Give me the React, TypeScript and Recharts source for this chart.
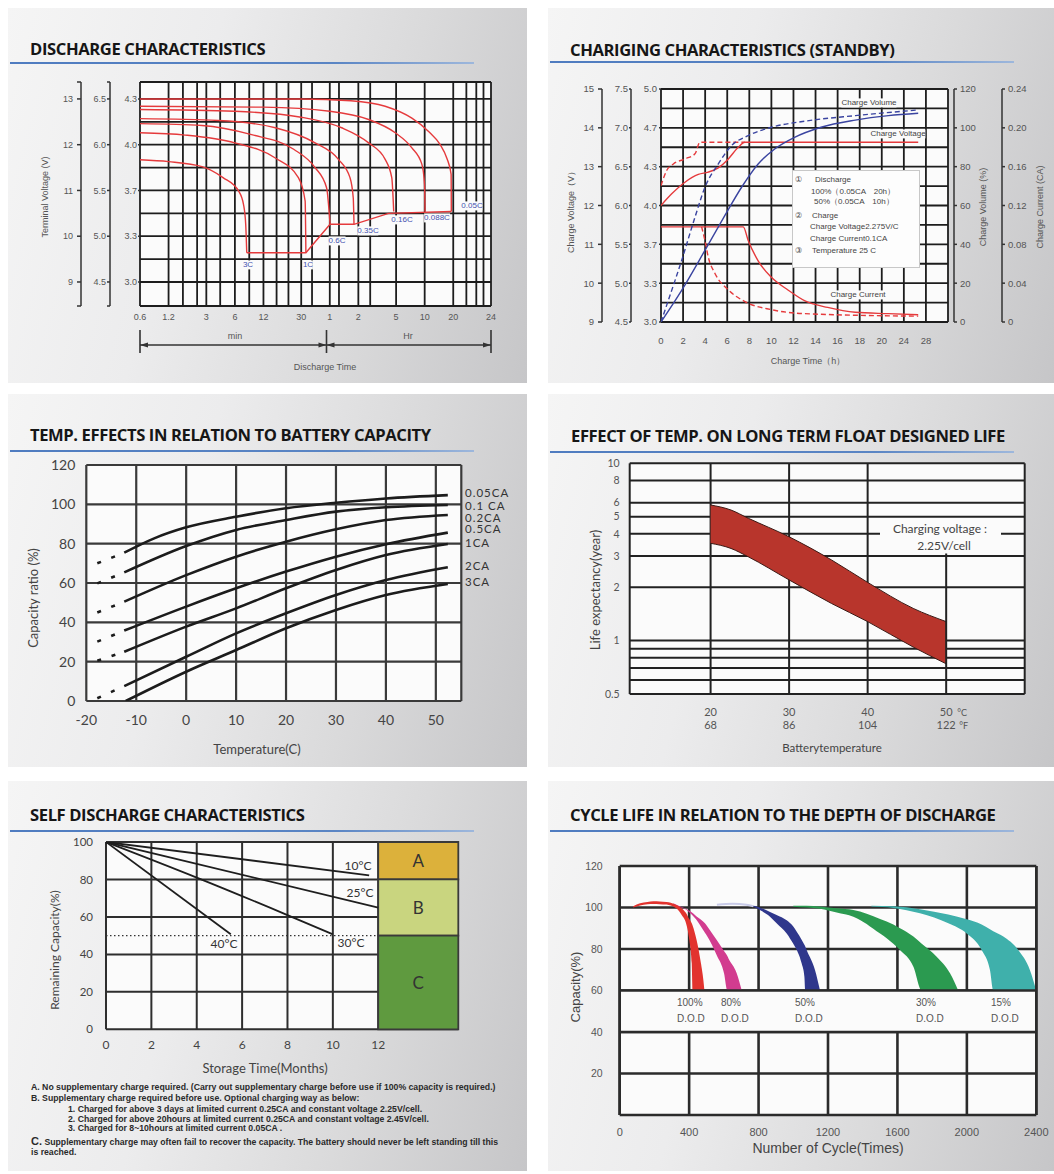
import React from 'react';
import {
  ComposedChart,
  Line,
  Area,
  XAxis,
  YAxis,
  CartesianGrid,
  ReferenceLine,
  ReferenceArea,
} from 'recharts';

type Pt = [number, number];
type Band = [number, number, number];

// ---- discharge characteristics: [minutes, volts on the 12V scale]
const dis3C: Pt[] = [[0.6, 11.67], [1.2, 11.63], [2.7, 11.52], [4.5, 11.28], [6.6, 10.98], [7.4, 10.69], [7.8, 10.26], [8.0, 9.64]];
const dis1C: Pt[] = [[0.6, 12.26], [1.8, 12.21], [6, 12.04], [16, 11.71], [28, 11.28], [33, 10.77], [33.6, 9.64]];
const dis06C: Pt[] = [[0.6, 12.46], [2.7, 12.42], [9, 12.22], [25, 11.9], [42, 11.5], [55.5, 11.06], [60.4, 10.26]];
const dis035C: Pt[] = [[0.6, 12.57], [4, 12.53], [16, 12.37], [42, 12.04], [74, 11.68], [98, 11.28], [106, 10.84], [108, 10.26]];
const dis016C: Pt[] = [[0.6, 12.77], [6, 12.73], [30, 12.6], [80, 12.37], [154, 12.04], [230, 11.68], [270, 11.28], [283, 10.54]];
const dis0088C: Pt[] = [[0.6, 12.84], [12, 12.82], [60, 12.73], [154, 12.55], [294, 12.26], [440, 11.93], [561, 11.57], [598, 11.13], [605, 10.54]];
const dis005C: Pt[] = [[0.6, 13.0], [30, 13.0], [100, 12.96], [230, 12.84], [440, 12.58], [660, 12.29], [875, 12.0], [1030, 11.7], [1140, 11.35], [1143, 10.98], [1145, 10.54]];
const disEnd: Pt[] = [[8.0, 9.64], [33.6, 9.64], [60.4, 10.26], [108, 10.26], [250, 10.5], [1145, 10.54]];
const disRateLabels = ['3C', '1C', '0.6C', '0.35C', '0.16C', '0.088C', '0.05C'];
const timeTicks = [0.6, 1.2, 3, 6, 12, 30, 60, 120, 300, 600, 1200, 3000];
const timeLabels = ['0.6', '1.2', '3', '6', '12', '30', '1', '2', '5', '10', '20', '24'];
const timeGrid = [0.6, 1.2, 1.7, 2.4, 3, 4.2, 6, 8.5, 12, 16.5, 22, 30, 39, 60, 75, 120, 160, 300, 600, 1200, 1650, 2100, 2500, 3000];
const disVoltTicks = [9, 10, 11, 12, 13];
const disGridV = [9, 9.5, 10, 10.5, 11, 11.5, 12, 12.5, 13];

// ---- charging characteristics: [hours, value]
const chgVolt100: Pt[] = [[0, 12.0], [0.97, 12.3], [2.17, 12.6], [3.38, 12.8], [4.28, 12.86], [5.19, 12.97], [6.1, 13.2], [7.0, 13.5], [7.6, 13.63], [23.3, 13.63]];
const chgVolt50: Pt[] = [[0, 12.51], [0.51, 12.9], [1.12, 13.07], [2.17, 13.2], [3.08, 13.33], [3.53, 13.63], [7.6, 13.63]];
const chgVol100: Pt[] = [[0, 0], [1.87, 16.3], [3.98, 36.9], [5.79, 54.9], [7.3, 69.4], [8.8, 81.4], [10.3, 89.1], [12.1, 95.1], [14.5, 100.3], [17.6, 104], [20.6, 106.3], [23.3, 107.5]];
const chgVol50: Pt[] = [[0, 0], [0.66, 11.1], [1.87, 31.7], [3.08, 54], [3.98, 69.4], [5.19, 81.4], [6.4, 90.9], [7.9, 96], [10, 100.3], [13, 103.4], [17.6, 106.3], [23.3, 109.2]];
const chgCur100: Pt[] = [[0, 0.098], [7.45, 0.098], [7.9, 0.084], [8.8, 0.063], [10, 0.046], [11.5, 0.033], [13, 0.022], [15.1, 0.015], [17.6, 0.01], [20.6, 0.0086], [23.3, 0.0075]];
const chgCur50: Pt[] = [[3.68, 0.098], [3.98, 0.084], [4.28, 0.067], [4.89, 0.05], [6.1, 0.033], [7.6, 0.021], [10, 0.0127], [13, 0.0086], [23.3, 0.006]];
const chgTimeTicks = [0, 2, 4, 6, 8, 10, 12, 14, 16, 18, 20, 22, 24];
const chgTimeLabels = ['0', '2', '4', '6', '8', '10', '12', '14', '16', '18', '20', '24', '28'];
const chgGridT = [0, 2, 4, 6, 8, 10, 12, 14, 16, 18, 20, 22, 24, 26];
const chgVoltTicks = [9, 10, 11, 12, 13, 14, 15];
const chgGridV = [9, 9.5, 10, 10.5, 11, 11.5, 12, 12.5, 13, 13.5, 14, 14.5, 15];
const volTicks = [0, 20, 40, 60, 80, 100, 120];
const curTicks = [0, 0.04, 0.08, 0.12, 0.16, 0.2, 0.24];

// ---- temperature vs capacity: [deg C, %]
const cap005: Pt[] = [[-12.4, 75.4], [-6.4, 82.7], [0, 88.3], [10, 93.7], [20, 98], [30, 100.8], [40, 103], [52.4, 104.7]];
const cap01: Pt[] = [[-12.4, 65.4], [0, 78.8], [10, 87], [20, 92], [30, 96.3], [40, 98.5], [52.4, 99.7]];
const cap02: Pt[] = [[-12.4, 50.5], [0, 64], [10, 73.4], [20, 81], [30, 87.3], [40, 92], [52.4, 94.6]];
const cap05: Pt[] = [[-12.4, 35.8], [0, 48], [10, 57.3], [20, 65.8], [30, 73.4], [40, 79.7], [52.4, 85.6]];
const cap1: Pt[] = [[-12.4, 25], [0, 37.8], [10, 47.1], [20, 57.3], [30, 66.6], [40, 74.2], [52.4, 79.8]];
const cap2: Pt[] = [[-12.4, 7.6], [0, 22.5], [10, 34.4], [20, 44.6], [30, 53.9], [40, 61.5], [52.4, 68]];
const cap3: Pt[] = [[-12.1, 0], [0, 14.9], [10, 25.9], [20, 37], [30, 46.3], [40, 53.9], [52.4, 59.5]];
const cap005Dash: Pt[] = [[-17.8, 70], [-12.4, 75.4]];
const cap01Dash: Pt[] = [[-17.8, 59.8], [-12.4, 65.4]];
const cap02Dash: Pt[] = [[-17.8, 45], [-12.4, 50.5]];
const cap05Dash: Pt[] = [[-17.8, 30.2], [-12.4, 35.8]];
const cap1Dash: Pt[] = [[-17.8, 20.5], [-12.4, 25]];
const cap2Dash: Pt[] = [[-17.8, 1.4], [-12.4, 7.6]];
const capRateLabels = ['0.05CA', '0.1 CA', '0.2CA', '0.5CA', '1CA', '2CA', '3CA'];
const tempTicks = [-20, -10, 0, 10, 20, 30, 40, 50];
const capTicks = [0, 20, 40, 60, 80, 100, 120];

// ---- float life: deg C -> years (band)
const lifeTemp = [20, 22.6, 24.8, 30, 35.4, 40, 45.8, 50];
const lifeHigh = [5.82, 5.45, 4.9, 3.85, 2.85, 2.13, 1.52, 1.28];
const lifeLow = [3.54, 3.31, 2.97, 2.2, 1.62, 1.28, 0.92, 0.74];
const lifeTempC = [20, 30, 40, 50];
const lifeTempF = ['68', '86', '104', '122'];
const lifeTicks = [0.5, 1, 2, 3, 4, 5, 6, 8, 10];
const lifeGrid = [0.5, 0.6, 0.7, 0.8, 0.9, 1, 2, 3, 4, 5, 6, 8, 10];

// ---- self discharge: [months, %]
const sd10: Pt[] = [[0, 100], [11.6, 82.2]];
const sd25: Pt[] = [[0, 100], [12, 65]];
const sd30: Pt[] = [[0, 100], [4, 81], [8, 61], [10, 50.7]];
const sd40: Pt[] = [[0, 100], [5.5, 50.7]];
const sdMonthTicks = [0, 2, 4, 6, 8, 10, 12];
const sdCapTicks = [0, 20, 40, 60, 80, 100];
const sdZones = [
  { name: 'A', lo: 80, hi: 100, color: '#dcb13b' },
  { name: 'B', lo: 50, hi: 80, color: '#c9d57f' },
  { name: 'C', lo: 0, hi: 50, color: '#5f9a3f' },
];
const sdNotes = [
  'A. No supplementary charge required. (Carry out supplementary charge before use if 100% capacity is required.)',
  'B. Supplementary charge required before use. Optional charging way as below:',
  '1. Charged for above 3 days at limited current 0.25CA and constant voltage 2.25V/cell.',
  '2. Charged for above 20hours at limited current 0.25CA and constant voltage 2.45V/cell.',
  '3. Charged for 8~10hours at limited current 0.05CA .',
  'C. Supplementary charge may often fail to recover the capacity. The battery should never be left standing till this',
  'is reached.',
];

// ---- cycle life: [cycles, low %, high %]
const dod100: Band[] = [[78, 100.0, 100.6], [117, 101.0, 102.0], [160, 101.6, 102.7], [194, 101.7, 103.0], [230, 101.6, 102.9], [270, 101.4, 102.65], [318, 100.0, 101.6], [328, 99.5, 101.2], [357, 96.4, 99.6], [376, 93.8, 98], [382, 92.4, 97.4], [401, 84.3, 94.4], [415, 73.1, 92.4], [420, 60, 91.3], [443, 60, 84.3], [468, 60, 73.1], [482, 60, 65.1], [488, 60, 60]];
const dod80: Band[] = [[309, 101.5, 102.1], [350, 100.1, 100.5], [386, 98.8, 99.2], [405, 97.3, 98.3], [443, 94, 95.7], [491, 87.8, 92.4], [505, 86, 90.8], [559, 77, 84.3], [601, 68.3, 79], [620, 60, 76.6], [626, 60, 75.5], [674, 60, 68.3], [703, 60, 60]];
const dod50: Band[] = [[770, 100.4, 100.8], [789, 99.6, 100.5], [866, 95.6, 97.8], [904, 92.4, 96.4], [962, 87.5, 93.8], [1000, 82.5, 90.8], [1020, 79.5, 88.3], [1048, 73.1, 84.5], [1064, 66.6, 82.0], [1069, 60, 81.2], [1077, 60, 79.5], [1125, 60, 69.9], [1154, 60, 60]];
const dod50Faint: Pt[] = [[560, 101.3], [650, 101.8], [730, 101.3], [770, 100.6]];
const dod30: Band[] = [[1000, 100.4, 100.8], [1077, 100.0, 100.9], [1154, 99.4, 100.5], [1250, 97.6, 99.6], [1346, 95.6, 98.8], [1500, 87.5, 94.5], [1538, 85.2, 93.2], [1615, 79.5, 90], [1692, 71.5, 86], [1740, 60, 82.5], [1826, 60, 76.3], [1903, 60, 68.3], [1950, 60, 60]];
const dod15: Band[] = [[1450, 100.5, 100.8], [1576, 99.8, 100.6], [1730, 97.2, 99.2], [1893, 92.4, 96.6], [1999, 87.5, 94.3], [2085, 79.5, 91.8], [2133, 69.9, 89.5], [2152, 60, 88.5], [2210, 60, 86], [2296, 60, 79.5], [2363, 60, 69.9], [2400, 60, 60]];
const dodLabels = ['100%', '80%', '50%', '30%', '15%'];
const cycleTicks = [0, 400, 800, 1200, 1600, 2000, 2400];
const cycCapTicks = [20, 40, 60, 80, 100, 120];

const ARIAL = '"Liberation Sans", Arial, sans-serif';
const MYR = 'Lato, "Open Sans", sans-serif';
const RED = '#e53a3c';
const BLUE = '#3a44a0';

const xy = (a: Pt[]) => a.map(([x, y]) => ({ x, y }));
const rng = (a: Band[]) => a.map(([x, lo, hi]) => ({ x, r: [lo, hi] }));

type TxtProps = {
  x: number; y: number; size?: number; color?: string; anchor?: 'start' | 'middle' | 'end';
  rotate?: number; weight?: number; family?: string; bg?: string; ls?: number; lh?: number; children: React.ReactNode;
};
function Txt({ x, y, size = 9, color = '#444', anchor = 'middle', rotate, weight = 400, family = ARIAL, bg, ls, lh = 1.15, children }: TxtProps) {
  const tx = anchor === 'middle' ? '-50%' : anchor === 'end' ? '-100%' : '0';
  return (
    <div
      style={{
        position: 'absolute', left: x, top: y,
        transform: `translate(${tx}, -50%)${rotate ? ` rotate(${rotate}deg)` : ''}`,
        fontSize: size, color, fontWeight: weight, fontFamily: family, background: bg,
        letterSpacing: ls, whiteSpace: 'nowrap', lineHeight: lh,
      }}
    >
      {children}
    </div>
  );
}

const panels = [
  { x: 8, y: 8, w: 519, h: 375, title: 'DISCHARGE CHARACTERISTICS', tx: 30, ty: 49, uy: 62.5 },
  { x: 548, y: 8, w: 506, h: 375, title: 'CHARIGING CHARACTERISTICS (STANDBY)', tx: 570, ty: 49.5, uy: 62 },
  { x: 8, y: 394, w: 519, h: 373, title: 'TEMP. EFFECTS IN RELATION TO BATTERY CAPACITY', tx: 30, ty: 434.5, uy: 450.5 },
  { x: 548, y: 394, w: 506, h: 373, title: 'EFFECT OF TEMP. ON LONG TERM FLOAT DESIGNED LIFE', tx: 571, ty: 436, uy: 452 },
  { x: 8, y: 781, w: 519, h: 390, title: 'SELF DISCHARGE CHARACTERISTICS', tx: 30, ty: 814.5, uy: 830.5 },
  { x: 548, y: 781, w: 506, h: 390, title: 'CYCLE LIFE IN RELATION TO THE DEPTH OF DISCHARGE', tx: 570, ty: 814.5, uy: 831 },
];

function Panels() {
  return (
    <>
      {panels.map((p) => (
        <React.Fragment key={p.title}>
          <div
            style={{
              position: 'absolute', left: p.x, top: p.y, width: p.w, height: p.h,
              background: 'linear-gradient(105deg, #f5f5f5 0%, #ececed 35%, #dadadb 68%, #c6c6c8 100%)',
            }}
          />
          <div
            style={{
              position: 'absolute', left: p.x + 2, top: p.uy - 1, width: 464, height: 2.2,
              background: 'linear-gradient(90deg, #4f7cc0 0%, #5a85c4 70%, #9db7dc 100%)',
            }}
          />
          <Txt x={p.tx} y={p.ty} anchor="start" size={16.6} weight={700} color="#161616" family='"Open Sans", sans-serif' ls={-0.4}>
            {p.title}
          </Txt>
        </React.Fragment>
      ))}
    </>
  );
}

const DIS_LO = 8.475;
const DIS_HI = 13.37;

// axis ids sort alphabetically from the plot outwards: L1 (4V) is nearest, L3 (12V) outermost
function DischargeChart() {
  const curves = [dis3C, dis1C, dis06C, dis035C, dis016C, dis0088C, dis005C];
  const tick = { fontSize: 9, fill: '#555' };
  const line = { stroke: '#333', strokeWidth: 1.5 };
  return (
    <div style={{ position: 'absolute', left: 30, top: 70, fontFamily: ARIAL }}>
      <ComposedChart width={470} height={260} margin={{ top: 12, right: 9, bottom: 4, left: 21 }}>
        <CartesianGrid yAxisId="L3" horizontalValues={[DIS_LO, ...disGridV, DIS_HI]} verticalValues={timeGrid} stroke="#1d1d1d" strokeWidth={1.8} fill="#fbfbfb" />
        <XAxis type="number" dataKey="x" scale="log" domain={[0.6, 3000]} allowDataOverflow ticks={timeTicks} interval={0}
          tickFormatter={(v: number) => timeLabels[timeTicks.indexOf(v)] ?? ''} axisLine={false} tickLine={false} tickMargin={2} height={20} tick={tick} />
        <YAxis yAxisId="L1" type="number" width={30} domain={[DIS_LO / 3, DIS_HI / 3]} allowDataOverflow ticks={disVoltTicks.map((v) => v / 3)} interval={0}
          tickFormatter={(v: number) => v.toFixed(1)} axisLine={false} tickLine={line} tickSize={2} tickMargin={1} tick={tick} />
        <YAxis yAxisId="L2" type="number" width={29} domain={[DIS_LO / 2, DIS_HI / 2]} allowDataOverflow ticks={[DIS_LO / 2, ...disVoltTicks.map((v) => v / 2), DIS_HI / 2]} interval={0}
          tickFormatter={(v: number) => (disVoltTicks.includes(v * 2) ? v.toFixed(1) : '')} axisLine={line} tickLine={line} tickSize={3} tickMargin={1} tick={tick} />
        <YAxis yAxisId="L3" type="number" width={30} domain={[DIS_LO, DIS_HI]} allowDataOverflow ticks={[DIS_LO, ...disVoltTicks, DIS_HI]} interval={0}
          tickFormatter={(v: number) => (disVoltTicks.includes(v) ? String(v) : '')} axisLine={line} tickLine={line} tickSize={4} tickMargin={4} tick={tick} />
        {curves.map((c, i) => (
          <Line key={disRateLabels[i]} yAxisId="L3" data={xy(c)} dataKey="y" type="monotone" stroke={RED} strokeWidth={1.4} dot={false} isAnimationActive={false} />
        ))}
        <Line yAxisId="L3" data={xy(disEnd)} dataKey="y" type="linear" stroke={RED} strokeWidth={1.4} dot={false} isAnimationActive={false} />
      </ComposedChart>
    </div>
  );
}

function DischargeDecor() {
  const labelPos = [[248, 265], [308, 265], [337, 241], [368, 231], [402, 220], [437, 218], [472, 206]];
  return (
    <>
      <Txt x={45} y={197} rotate={-90} size={9} color="#555">Terminal Voltage  (V)</Txt>
      {disRateLabels.map((l, i) => (
        <Txt key={l} x={labelPos[i][0]} y={labelPos[i][1]} size={8} color="#4352b0" bg="#fbfbfb">{l}</Txt>
      ))}
      <svg style={{ position: 'absolute', left: 0, top: 0 }} width={520} height={380}>
        <g stroke="#333" strokeWidth={1.6}>
          <line x1={140} y1={330} x2={140} y2={353} />
          <line x1={326.5} y1={330} x2={326.5} y2={353} />
          <line x1={491} y1={330} x2={491} y2={353} />
          <line x1={140} y1={345} x2={491} y2={345} />
        </g>
        <g fill="#333">
          <path d="M140 345 l8 -2.6 v5.2 z" />
          <path d="M326.5 345 l-8 -2.6 v5.2 z" />
          <path d="M326.5 345 l8 -2.6 v5.2 z" />
          <path d="M491 345 l-8 -2.6 v5.2 z" />
        </g>
      </svg>
      <Txt x={235} y={336} size={9} color="#555">min</Txt>
      <Txt x={408} y={336} size={9} color="#555">Hr</Txt>
      <Txt x={325} y={367} size={9} color="#555">Discharge Time</Txt>
    </>
  );
}

function ChargingChart() {
  const tick = { fontSize: 9.5, fill: '#555' };
  const line = { stroke: '#333', strokeWidth: 1.5 };
  return (
    <div style={{ position: 'absolute', left: 540, top: 80, fontFamily: ARIAL }}>
      <ComposedChart width={510} height={270} margin={{ top: 9, right: 8, bottom: 3, left: 32 }}>
        <CartesianGrid yAxisId="L3" horizontalValues={chgGridV} verticalValues={chgGridT} stroke="#1d1d1d" strokeWidth={1.8} fill="#fbfbfb" />
        <XAxis type="number" dataKey="x" domain={[0, 26]} allowDataOverflow ticks={chgTimeTicks} interval={0}
          tickFormatter={(v: number) => chgTimeLabels[chgTimeTicks.indexOf(v)] ?? ''} axisLine={false} tickLine={false} tickMargin={9} height={25} tick={tick} />
        <YAxis yAxisId="L1" type="number" width={30} domain={[3, 5]} allowDataOverflow ticks={chgVoltTicks.map((v) => v / 3)} interval={0}
          tickFormatter={(v: number) => v.toFixed(1)} axisLine={false} tickLine={line} tickSize={2} tickMargin={2} tick={tick} />
        <YAxis yAxisId="L2" type="number" width={29} domain={[4.5, 7.5]} allowDataOverflow ticks={chgVoltTicks.map((v) => v / 2)} interval={0}
          tickFormatter={(v: number) => v.toFixed(1)} axisLine={line} tickLine={line} tickSize={2} tickMargin={1} tick={tick} />
        <YAxis yAxisId="L3" type="number" width={30} domain={[9, 15]} allowDataOverflow ticks={chgVoltTicks} interval={0}
          axisLine={line} tickLine={line} tickSize={4} tickMargin={4} tick={tick} />
        <YAxis yAxisId="R1" orientation="right" type="number" width={6} domain={[0, 1]} axisLine={false} tickLine={false} tick={false} />
        <YAxis yAxisId="R2" orientation="right" type="number" width={48} domain={[0, 120]} allowDataOverflow ticks={volTicks} interval={0}
          axisLine={line} tickLine={line} tickSize={3} tickMargin={3} tick={tick} />
        <YAxis yAxisId="R3" orientation="right" type="number" width={40} domain={[0, 0.24]} allowDataOverflow ticks={curTicks} interval={0}
          tickFormatter={(v: number) => (v === 0 ? '0' : v.toFixed(2))} axisLine={line} tickLine={line} tickSize={3} tickMargin={3} tick={tick} />
        <Line yAxisId="L3" data={xy(chgVolt100)} dataKey="y" type="monotone" stroke={RED} strokeWidth={1.4} dot={false} isAnimationActive={false} />
        <Line yAxisId="L3" data={xy(chgVolt50)} dataKey="y" type="monotone" stroke={RED} strokeWidth={1.4} strokeDasharray="5 3" dot={false} isAnimationActive={false} />
        <Line yAxisId="R3" data={xy(chgCur100)} dataKey="y" type="monotone" stroke={RED} strokeWidth={1.4} dot={false} isAnimationActive={false} />
        <Line yAxisId="R3" data={xy(chgCur50)} dataKey="y" type="monotone" stroke={RED} strokeWidth={1.4} strokeDasharray="5 3" dot={false} isAnimationActive={false} />
        <Line yAxisId="R2" data={xy(chgVol100)} dataKey="y" type="monotone" stroke={BLUE} strokeWidth={1.4} dot={false} isAnimationActive={false} />
        <Line yAxisId="R2" data={xy(chgVol50)} dataKey="y" type="monotone" stroke={BLUE} strokeWidth={1.4} strokeDasharray="5 3" dot={false} isAnimationActive={false} />
      </ComposedChart>
    </div>
  );
}

function ChargingDecor() {
  const c = '#444';
  return (
    <>
      <Txt x={571} y={210} rotate={-90} size={9} color="#555">Charge Voltage（V）</Txt>
      <Txt x={983} y={207} rotate={-90} size={9} color="#555">Charge Volume (%)</Txt>
      <Txt x={1040} y={207} rotate={-90} size={9} color="#555">Charge Current (CA)</Txt>
      <Txt x={808} y={361} size={9} color="#555">Charge Time（h）</Txt>
      <Txt x={869} y={103} size={8} color={c} bg="#fbfbfb">Charge Volume</Txt>
      <Txt x={898} y={134} size={8} color={c} bg="#fbfbfb">Charge Voltage</Txt>
      <Txt x={858} y={295} size={8} color={c} bg="#fbfbfb">Charge Current</Txt>
      <div style={{ position: 'absolute', left: 792, top: 170, width: 126, height: 96, background: '#fdfdfd', border: '1px solid #c8c8c8' }} />
      <Txt x={795} y={180} anchor="start" size={8} color={c}>①</Txt>
      <Txt x={815} y={180} anchor="start" size={8} color={c}>Discharge</Txt>
      <Txt x={811} y={192.3} anchor="start" size={8} color={c}>100%（0.05CA　20h）</Txt>
      <Txt x={814} y={202.3} anchor="start" size={8} color={c}>50%（0.05CA　10h）</Txt>
      <Txt x={795} y={215.7} anchor="start" size={8} color={c}>②</Txt>
      <Txt x={812} y={215.7} anchor="start" size={8} color={c}>Charge</Txt>
      <Txt x={810} y={227.3} anchor="start" size={8} color={c}>Charge Voltage2.275V/C</Txt>
      <Txt x={810} y={239} anchor="start" size={8} color={c}>Charge Current0.1CA</Txt>
      <Txt x={795} y={250.7} anchor="start" size={8} color={c}>③</Txt>
      <Txt x={812} y={250.7} anchor="start" size={8} color={c}>Temperature 25 C</Txt>
    </>
  );
}

function TempCapChart() {
  const solid = [cap005, cap01, cap02, cap05, cap1, cap2, cap3];
  const dashed = [cap005Dash, cap01Dash, cap02Dash, cap05Dash, cap1Dash, cap2Dash];
  const tick = { fontSize: 14, fill: '#444' };
  return (
    <div style={{ position: 'absolute', left: 20, top: 455, fontFamily: MYR }}>
      <ComposedChart width={450} height={275} margin={{ top: 10, right: 8.7, bottom: 5, left: 16.3 }}>
        <CartesianGrid horizontalValues={capTicks} verticalValues={[...tempTicks, 55.1]} stroke="#3a3a3a" strokeWidth={2.2} fill="#fbfbfb" />
        <XAxis type="number" dataKey="x" domain={[-20, 55.1]} allowDataOverflow ticks={tempTicks} interval={0}
          axisLine={false} tickLine={false} tickMargin={8} height={24} tick={tick} />
        <YAxis type="number" domain={[0, 120]} allowDataOverflow ticks={capTicks} interval={0} width={50}
          axisLine={false} tickLine={false} tickMargin={5} tick={tick} />
        {solid.map((s, i) => (
          <Line key={capRateLabels[i]} data={xy(s)} dataKey="y" type="monotone" stroke="#1c1c1c" strokeWidth={2.6} dot={false} isAnimationActive={false} />
        ))}
        {dashed.map((s, i) => (
          <Line key={`d${i}`} data={xy(s)} dataKey="y" type="linear" stroke="#1c1c1c" strokeWidth={2.6} strokeDasharray="4 11" dot={false} isAnimationActive={false} />
        ))}
      </ComposedChart>
    </div>
  );
}

function TempCapDecor() {
  const ys = [493.3, 506, 517.5, 529, 543.3, 565.7, 582.3];
  return (
    <>
      <Txt x={33} y={598} rotate={-90} size={13} color="#444" family={MYR}>Capacity ratio (%)</Txt>
      <Txt x={257} y={749} size={13} color="#444" family={MYR}>Temperature(C)</Txt>
      {capRateLabels.map((l, i) => (
        <Txt key={l} x={465} y={ys[i]} anchor="start" size={11.5} color="#333" family={MYR} ls={1} lh={0.85}>{l}</Txt>
      ))}
    </>
  );
}

function TempTick(props: any) {
  const { x, y, payload } = props;
  const i = lifeTempC.indexOf(payload.value);
  const last = i === lifeTempC.length - 1;
  return (
    <g transform={`translate(${x},${y})`} fontFamily={MYR} fill="#555">
      <text x={0} y={22} textAnchor="middle" fontSize={11}>{payload.value}</text>
      <text x={0} y={35} textAnchor="middle" fontSize={11}>{lifeTempF[i]}</text>
      {last ? <text x={11} y={22} fontSize={9}>°C</text> : null}
      {last ? <text x={13} y={35} fontSize={9}>°F</text> : null}
    </g>
  );
}

function FloatLifeChart() {
  const data = lifeTemp.map((t, i) => ({ x: t, r: [lifeLow[i], lifeHigh[i]] }));
  return (
    <div style={{ position: 'absolute', left: 590, top: 455, fontFamily: MYR }}>
      <ComposedChart width={450} height={300} margin={{ top: 8.3, right: 15.3, bottom: 21, left: 9.7 }}>
        <CartesianGrid horizontalValues={lifeGrid} verticalValues={[9.7, 20, 30, 40, 60]} stroke="#222" strokeWidth={2} fill="#fbfbfb" />
        <XAxis type="number" dataKey="x" domain={[9.7, 60]} allowDataOverflow ticks={lifeTempC} interval={0}
          axisLine={false} tickLine={false} tickSize={0} tickMargin={0} height={40} tick={(p: any) => <TempTick {...p} />} />
        <YAxis type="number" scale="log" domain={[0.5, 10]} allowDataOverflow ticks={lifeTicks} interval={0} width={30}
          axisLine={false} tickLine={false} tickMargin={4} tick={{ fontSize: 10.5, fill: '#555' }} />
        <ReferenceLine segment={[{ x: 50, y: 0.5 }, { x: 50, y: 3.1 }]} stroke="#222" strokeWidth={2} />
        <Area data={data} dataKey="r" type="monotone" fill="#b8352c" fillOpacity={1} stroke="#3b1a15" strokeWidth={1} isAnimationActive={false} />
      </ComposedChart>
    </div>
  );
}

function FloatLifeDecor() {
  return (
    <>
      <Txt x={595} y={590} rotate={-90} size={13} color="#444" family={MYR}>Life expectancy(year)</Txt>
      <Txt x={832} y={748} size={11.5} color="#444" family={MYR}>Batterytemperature</Txt>
      <div style={{ position: 'absolute', left: 880, top: 519, width: 121, height: 34, background: '#fbfbfb' }} />
      <Txt x={940} y={529} size={12} color="#444" family={MYR}>Charging voltage :</Txt>
      <Txt x={944} y={546} size={12} color="#444" family={MYR}>2.25V/cell</Txt>
    </>
  );
}

function SelfDischargeChart() {
  const lines = [sd10, sd25, sd30, sd40];
  const tick = { fontSize: 12, fill: '#444' };
  return (
    <div style={{ position: 'absolute', left: 50, top: 830, fontFamily: MYR }}>
      <ComposedChart width={420} height={230} margin={{ top: 12, right: 11.7, bottom: 8.7, left: 16 }}>
        <CartesianGrid horizontalValues={sdCapTicks} verticalValues={sdMonthTicks} stroke="#2e2e2e" strokeWidth={2} fill="#fbfbfb" />
        <XAxis type="number" dataKey="x" domain={[0, 15.53]} allowDataOverflow ticks={sdMonthTicks} interval={0}
          axisLine={false} tickLine={false} tickMargin={5} height={22} tick={tick} />
        <YAxis type="number" domain={[0, 100]} allowDataOverflow ticks={sdCapTicks} interval={0} width={40}
          axisLine={false} tickLine={false} tickMargin={7} tick={{ fontSize: 11.5, fill: '#444' }} />
        {sdZones.map((z) => (
          <ReferenceArea key={z.name} x1={12} x2={15.53} y1={z.lo} y2={z.hi} fill={z.color} fillOpacity={1} stroke="#3a3a3a" strokeWidth={1.8}
            label={{ value: z.name, position: 'center', fill: '#333', fontSize: 17 }} />
        ))}
        <ReferenceLine segment={[{ x: 0, y: 50 }, { x: 12, y: 50 }]} stroke="#333" strokeWidth={1.2} strokeDasharray="1.5 2.5" />
        {lines.map((s, i) => (
          <Line key={i} data={xy(s)} dataKey="y" type="monotone" stroke="#1e1e1e" strokeWidth={1.8} dot={false} isAnimationActive={false} />
        ))}
      </ComposedChart>
    </div>
  );
}

function SelfDischargeDecor() {
  const noteY = [1086.7, 1098.3, 1109.3, 1118.6, 1128.3, 1140.7, 1151.7];
  const noteX = [31, 31, 68, 68, 68, 31, 31];
  return (
    <>
      <Txt x={55} y={950} rotate={-90} size={12} color="#444" family={MYR}>Remaining Capacity(%)</Txt>
      <Txt x={265} y={1068} size={13} color="#444" family={MYR}>Storage Time(Months)</Txt>
      <Txt x={358} y={866} size={12} color="#333" family={MYR}>10°C</Txt>
      <Txt x={360} y={893} size={12} color="#333" family={MYR}>25°C</Txt>
      <Txt x={224} y={944} size={12} color="#333" family={MYR}>40°C</Txt>
      <Txt x={351} y={943} size={12} color="#333" family={MYR}>30°C</Txt>
      {sdNotes.map((n, i) => (
        <Txt key={i} x={noteX[i]} y={noteY[i]} anchor="start" size={8.7} weight={700} color="#2a2a2a" lh={1}>
          {n.startsWith('C.') ? (<><span style={{ fontSize: 11 }}>C.</span>{n.slice(2)}</>) : n}
        </Txt>
      ))}
    </>
  );
}

function CycleLifeChart() {
  const grid = '#2b2b2b';
  const tick = { fontSize: 11, fill: '#555' };
  return (
    <div style={{ position: 'absolute', left: 570, top: 855, fontFamily: ARIAL }}>
      <ComposedChart width={480} height={290} margin={{ top: 11, right: 13.7, bottom: 5, left: 9.7 }}>
        <CartesianGrid horizontalValues={[0, ...cycCapTicks]} verticalValues={cycleTicks} stroke={grid} strokeWidth={2.6} fill="#fbfbfb" />
        <XAxis type="number" dataKey="x" domain={[0, 2400]} allowDataOverflow ticks={cycleTicks} interval={0}
          axisLine={false} tickLine={false} tickMargin={7} height={25} tick={tick} />
        <YAxis type="number" domain={[0, 120]} allowDataOverflow ticks={cycCapTicks} interval={0} width={40}
          axisLine={false} tickLine={false} tickMargin={11} tick={{ fontSize: 10.5, fill: '#555' }} />
        <ReferenceArea x1={0} x2={2400} y1={40} y2={60} fill="#fbfbfb" fillOpacity={1} stroke="none" />
        <ReferenceLine y={40} stroke={grid} strokeWidth={2.6} />
        <ReferenceLine y={60} stroke={grid} strokeWidth={2.6} />
        <ReferenceLine x={0} stroke={grid} strokeWidth={2.6} />
        <ReferenceLine x={2400} stroke={grid} strokeWidth={2.6} />
        <Line data={xy(dod50Faint)} dataKey="y" type="monotone" stroke="#c9cbe8" strokeWidth={2} dot={false} isAnimationActive={false} />
        <Area data={rng(dod15)} dataKey="r" type="monotone" fill="#3fb0ab" fillOpacity={1} stroke="none" isAnimationActive={false} />
        <Area data={rng(dod30)} dataKey="r" type="monotone" fill="#2b9a50" fillOpacity={1} stroke="none" isAnimationActive={false} />
        <Area data={rng(dod50)} dataKey="r" type="monotone" fill="#2f378c" fillOpacity={1} stroke="none" isAnimationActive={false} />
        <Area data={rng(dod80)} dataKey="r" type="monotone" fill="#d23c8f" fillOpacity={1} stroke="none" isAnimationActive={false} />
        <Area data={rng(dod100)} dataKey="r" type="monotone" fill="#e2332e" fillOpacity={1} stroke="none" isAnimationActive={false} />
      </ComposedChart>
    </div>
  );
}

function CycleLifeDecor() {
  const xs = [677, 721, 795, 916, 991];
  return (
    <>
      <Txt x={576} y={987} rotate={-90} size={13} color="#444">Capacity(%)</Txt>
      <Txt x={828} y={1148} size={14} color="#444">Number of Cycle(Times)</Txt>
      {dodLabels.map((l, i) => (
        <React.Fragment key={l}>
          <Txt x={xs[i]} y={1003} anchor="start" size={10} color="#555">{l}</Txt>
          <Txt x={xs[i]} y={1018.5} anchor="start" size={10} color="#555">D.O.D</Txt>
        </React.Fragment>
      ))}
    </>
  );
}

export default function App() {
  return (
    <div style={{ position: 'absolute', left: 0, top: 0, width: 1054, height: 1174, background: '#ffffff', overflow: 'hidden' }}>
      <Panels />
      <DischargeChart />
      <DischargeDecor />
      <ChargingChart />
      <ChargingDecor />
      <TempCapChart />
      <TempCapDecor />
      <FloatLifeChart />
      <FloatLifeDecor />
      <SelfDischargeChart />
      <SelfDischargeDecor />
      <CycleLifeChart />
      <CycleLifeDecor />
    </div>
  );
}
